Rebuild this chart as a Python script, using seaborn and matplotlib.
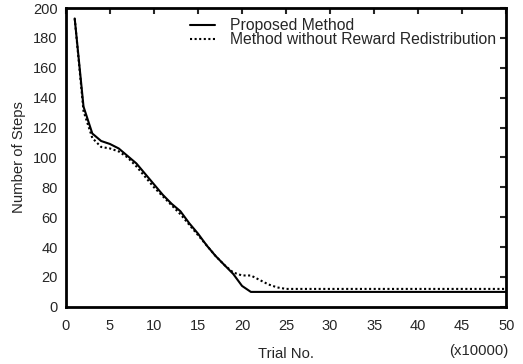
import matplotlib
matplotlib.use("Agg")
import matplotlib.pyplot as plt
import seaborn as sns
import pandas as pd

# trial number (x10000)
trials = list(range(1, 51))
# Proposed Method
proposed = [193, 134, 116, 111, 109, 106, 101, 96, 89, 82,
            75, 69, 64, 56, 49, 41, 34, 28, 22, 14] + [10] * 30
# Method without Reward Redistribution
no_redist = [193, 131, 113, 107, 106, 104, 100, 94, 87, 80,
             74, 68, 62, 55, 48, 41, 34, 28, 23, 21,
             21, 18, 15, 13, 12] + [12] * 25

df = pd.DataFrame({
    "trial": trials * 2,
    "steps": proposed + no_redist,
    "method": ["Proposed Method"] * 50 + ["Method without Reward Redistribution"] * 50,
})

sns.set_style("white")
plt.rcParams['font.family'] = ['Liberation Sans', 'DejaVu Sans']

fig, ax = plt.subplots(figsize=(5.23, 3.64), dpi=100)
fig.subplots_adjust(left=0.126, right=0.968, top=0.978, bottom=0.157)

sns.lineplot(data=df, x="trial", y="steps", hue="method", style="method",
             palette=["black", "black"],
             dashes={"Proposed Method": "", "Method without Reward Redistribution": (1, 1.2)},
             linewidth=1.5, ax=ax)

ax.set_xlim(0, 50)
ax.set_ylim(0, 200)
ax.set_xticks(range(0, 51, 5))
ax.set_yticks(range(0, 201, 20))
ax.tick_params(direction="in", top=True, right=True, length=4, width=1.5,
               labelsize=10.5)
ax.tick_params(axis="x", pad=8.5)
ax.tick_params(axis="y", pad=6)
for s in ax.spines.values():
    s.set_linewidth(2)
    s.set_color("black")

ax.set_xlabel("Trial No.", fontsize=10.7, labelpad=10)
ax.set_ylabel("Number of Steps", fontsize=10.7, labelpad=5)
ax.text(1.005, -0.147, "(x10000)", transform=ax.transAxes, ha="right", va="center", fontsize=10.7)

ax.legend(loc="upper right", bbox_to_anchor=(1.0, 1.0), frameon=False, fontsize=11.3,
          handlelength=1.6, handletextpad=0.95, labelspacing=-0.05, borderaxespad=0.25)

fig.savefig("out.png", dpi=100)
